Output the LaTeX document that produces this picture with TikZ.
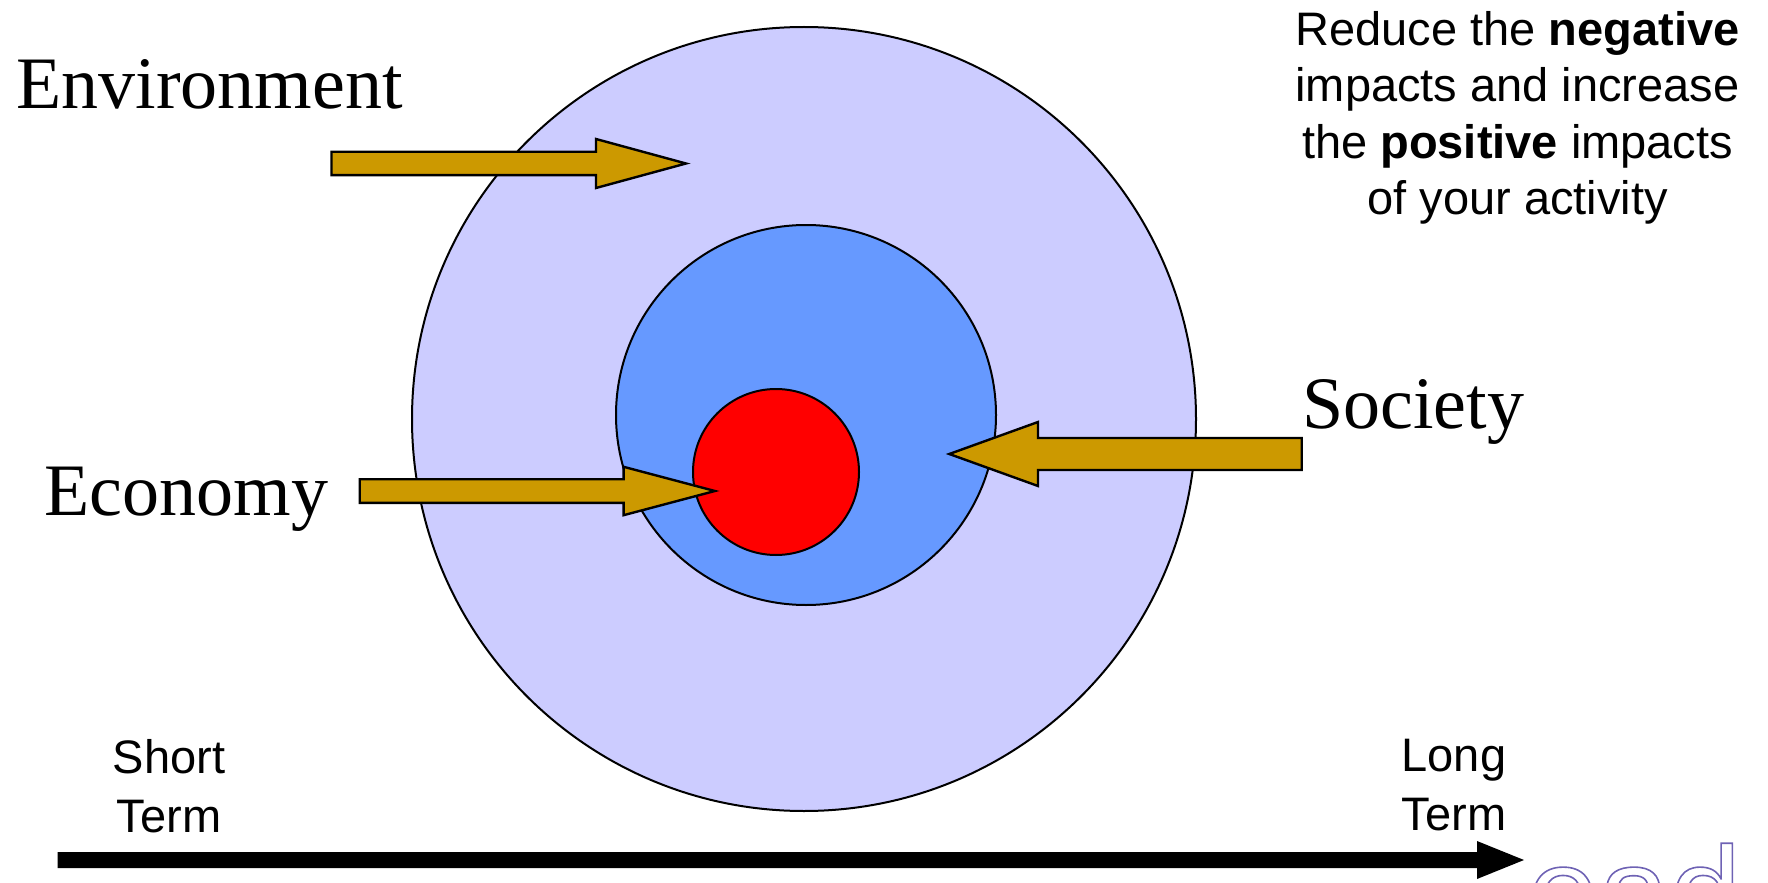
\documentclass[tikz,border=0pt]{standalone}
\usepackage{fontspec}
\setmainfont{Liberation Serif}
\newfontfamily\arialfont{Liberation Sans}
\definecolor{envblue}{HTML}{CCCCFF}
\definecolor{socblue}{HTML}{6699FF}
\definecolor{ecored}{HTML}{FF0000}
\definecolor{arrowgold}{HTML}{CC9900}
\definecolor{eadpurple}{HTML}{6E62B4}
\tikzset{
  ring/.style={draw=black,line width=1pt},
  blockarrow/.style={draw=black,fill=arrowgold,line width=1.2pt,line join=miter},
  bigword/.style={font=\fontsize{37}{44}\selectfont,anchor=base west,inner sep=0pt},
  smallword/.style={font=\arialfont\fontsize{23.5}{28.2}\selectfont,align=center,inner sep=0pt,anchor=north},
}
\begin{document}
\begin{tikzpicture}[x=0.5pt,y=-0.5pt]
\useasboundingbox (0,0) rectangle (1768,883);
% the three spheres
\coordinate (envc) at (804,419);
\coordinate (socc) at (806,415);
\coordinate (ecoc) at (776,472);
\draw[ring,fill=envblue] (envc) circle (392);
\draw[ring,fill=socblue] (socc) circle (190);
\draw[ring,fill=ecored] (ecoc) circle (83);
% block arrows: tail/head base/tip/y/half shaft/half head
\foreach \tl/\bs/\tp/\y/\sh/\hh in {331.5/596/686/163.5/11.7/24.5,359.7/623.6/714.9/491/11.8/24.2,1301.7/1038/949.3/454/16/32}
  \draw[blockarrow] (\tl,\y-\sh) -- (\bs,\y-\sh) -- (\bs,\y-\hh) -- (\tp,\y) -- (\bs,\y+\hh) -- (\bs,\y+\sh) -- (\tl,\y+\sh) -- cycle;
% time line
\fill[black] (57.7,852) -- (1477,852) -- (1477,841) -- (1524,860) -- (1477,879) -- (1477,868) -- (57.7,868) -- cycle;
\node[bigword] (envlabel) at (16,109) {Environment};
\node[bigword] (ecolabel) at (44,515) {Economy};
\node[bigword] (soclabel) at (1302,428) {Society};
\node[smallword] (aim) at (1517.5,11) {Reduce the \textbf{negative}\\impacts and increase\\the \textbf{positive} impacts\\of your activity};
\node[smallword,font=\arialfont\fontsize{23.5}{29.5}\selectfont] (short) at (169,739) {Short\\Term};
\node[smallword,font=\arialfont\fontsize{23.5}{29.5}\selectfont] (long) at (1454,739) {Long\\Term};
\begin{scope}
\clip (0,0) rectangle (1768,883);
\node[anchor=base west,inner sep=0pt,text=eadpurple,font=\arialfont\fontsize{64}{76}\selectfont] (ead) at (1527,936) {\special{pdf:literal direct 1 Tr 0.8 w}ead\special{pdf:literal direct 0 Tr}};
\end{scope}
\end{tikzpicture}
\end{document}
